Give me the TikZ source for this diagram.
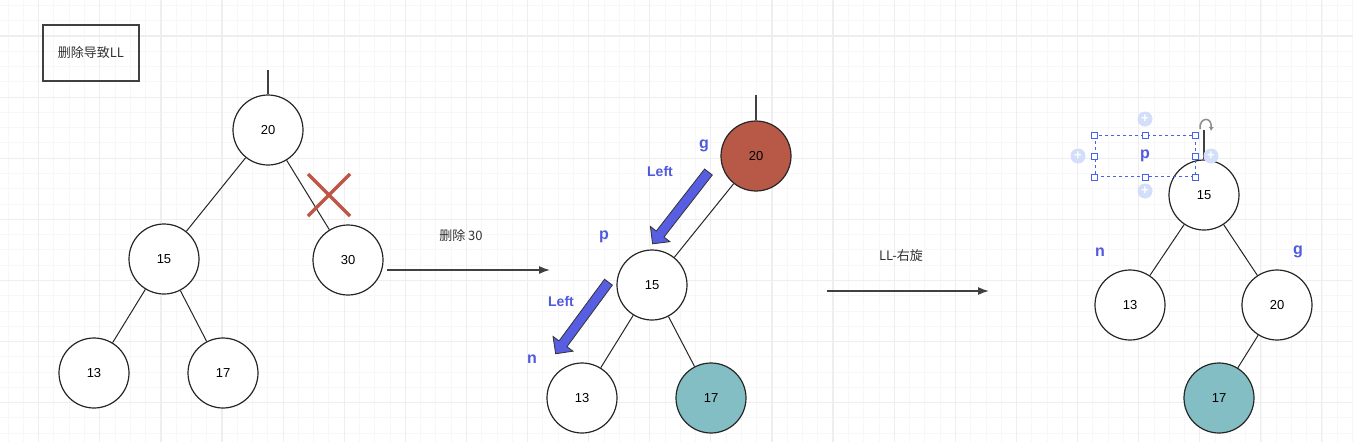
\documentclass[tikz,border=0pt]{standalone}
\usepackage{fontspec}
\setmainfont{Liberation Sans}
\newfontfamily\cjk{Noto Sans CJK SC}
\usetikzlibrary{arrows.meta,shapes.arrows}

\definecolor{gridminor}{RGB}{247,247,247}
\definecolor{gridmajor}{RGB}{238,238,238}
\definecolor{nodered}{RGB}{184,89,72}
\definecolor{nodeteal}{RGB}{132,190,197}
\definecolor{crossred}{RGB}{190,86,70}
\definecolor{tagblue}{RGB}{80,90,222}
\definecolor{arrowblue}{RGB}{88,94,226}
\definecolor{selblue}{RGB}{70,100,230}
\definecolor{plusblue}{RGB}{210,222,250}

\begin{document}
\begin{tikzpicture}[x=1pt, y=-1pt]
    \tikzstyle{every node} = [align=center, font=\fontsize{13}{15}\selectfont]
    \tikzstyle{vertex} = [circle, draw=black!85, line width=1.2pt, minimum size=70pt, inner sep=0pt, fill=white]
    \tikzstyle{redvertex} = [vertex, fill=nodered]
    \tikzstyle{tealvertex} = [vertex, fill=nodeteal]
    \tikzstyle{link} = [draw=black!85, line width=1pt]
    \tikzstyle{stub} = [draw=black!75, line width=1.7pt]
    \tikzstyle{flow} = [draw=black!75, line width=1.4pt, -{Latex[length=11pt,width=8pt]}]
    \tikzstyle{caption} = [font=\cjk\fontsize{13}{15}\selectfont, text=black!80]
    \tikzstyle{tag} = [text=tagblue, font=\bfseries\fontsize{16}{18}\selectfont]
    \tikzstyle{dirtag} = [text=tagblue, font=\bfseries\fontsize{14}{16}\selectfont]
    \tikzstyle{bigarrow} = [single arrow, draw=black!80, fill=arrowblue, line width=0.8pt, inner sep=4.5pt, single arrow head extend=7.5pt, single arrow head indent=0pt]
    \tikzstyle{handle} = [draw=selblue, fill=white, line width=0.8pt, minimum size=6pt, inner sep=0pt]
    \tikzstyle{plus} = [circle, fill=plusblue, minimum size=15pt, inner sep=0pt, text=white, font=\bfseries\fontsize{13}{13}\selectfont]

    % background and grid
    \useasboundingbox (0,0) rectangle (1353,442);
    \fill[white] (0,0) rectangle (1353,442);
    \foreach \x in {8.1,23.38,...,1353} \draw[gridminor, line width=1pt] (\x,0) -- (\x,442);
    \foreach \y in {5.4,20.68,...,442} \draw[gridminor, line width=1pt] (0,\y) -- (1353,\y);
    \foreach \x in {38.7,99.8,...,1353} \draw[gridmajor, line width=1.2pt] (\x,0) -- (\x,442);
    \foreach \y in {36,97.1,...,442} \draw[gridmajor, line width=1.2pt] (0,\y) -- (1353,\y);

    % title box
    \node (title) [draw=black!75, line width=1.6pt, minimum width=96pt, minimum height=56pt, caption] at (91,53) {删除导致LL};

    % tree before deletion
    \coordinate (t1top) at (268,70);
    \node (t1a) [vertex] at (268,130) {20};
    \node (t1b) [vertex] at (164,259) {15};
    \node (t1c) [vertex] at (348,260) {30};
    \node (t1d) [vertex] at (94,373) {13};
    \node (t1e) [vertex] at (223,373) {17};
    \draw[stub] (t1top) -- (t1a);
    \draw[link] (t1a) -- (t1b);
    \draw[link] (t1a) -- (t1c);
    \draw[link] (t1b) -- (t1d);
    \draw[link] (t1b) -- (t1e);
    \draw[crossred, line width=3.2pt] (308,174) -- (350,216) (350,174) -- (308,216);

    % delete step
    \coordinate (del1) at (387,270);
    \coordinate (del2) at (550,270);
    \draw[flow] (del1) -- (del2);
    \node (dellabel) [caption] at (461,236) {删除 30};

    % tree after deletion
    \coordinate (t2top) at (756,95);
    \node (t2a) [redvertex] at (756,156) {20};
    \node (t2b) [vertex] at (652,285) {15};
    \node (t2c) [vertex] at (582,398) {13};
    \node (t2d) [tealvertex] at (711,398) {17};
    \draw[stub] (t2top) -- (t2a);
    \draw[link] (t2a) -- (t2b);
    \draw[link] (t2b) -- (t2c);
    \draw[link] (t2b) -- (t2d);
    \node (leftg) [bigarrow, minimum height=91pt, rotate=232.1] at (682,206) {};
    \node (leftp) [bigarrow, minimum height=89pt, rotate=233.6] at (583.5,316) {};
    \node (tagg) [tag] at (704,146) {g};
    \node (tagp) [tag] at (604,237) {p};
    \node (tagn) [tag] at (532,359) {n};
    \node (dirg) [dirtag] at (660,171) {Left};
    \node (dirp) [dirtag] at (561,301) {Left};

    % rotate step
    \coordinate (rot1) at (827,291);
    \coordinate (rot2) at (989,291);
    \draw[flow] (rot1) -- (rot2);
    \node (rotlabel) [caption] at (901,256) {LL-右旋};

    % tree after right rotation
    \coordinate (t3top) at (1204,130);
    \node (t3a) [vertex] at (1204,195) {15};
    \node (t3b) [vertex] at (1130,305) {13};
    \node (t3c) [vertex] at (1277,305) {20};
    \node (t3d) [tealvertex] at (1219,398) {17};
    \draw[stub] (t3top) -- (t3a);
    \draw[link] (t3a) -- (t3b);
    \draw[link] (t3a) -- (t3c);
    \draw[link] (t3c) -- (t3d);
    \node (tagn3) [tag] at (1100,252) {n};
    \node (tagg3) [tag] at (1298,252) {g};

    % selected label p
    \node (sel) [draw=selblue, dashed, line width=0.8pt, minimum width=100pt, minimum height=41pt, tag] at (1145,156) {p};
    \foreach \pos in {north west,north,north east,west,east,south west,south,south east}
        \node [handle] at (sel.\pos) {};
    \node (plusn) [plus] at (1145,119) {+};
    \node (pluss) [plus] at (1145,191) {+};
    \node (plusw) [plus] at (1078,156) {+};
    \node (pluse) [plus] at (1211,156) {+};
    \coordinate (rota) at (1200,129);
    \coordinate (rotb) at (1211,131);
    \draw[black!45, line width=1.5pt, -{Latex[length=4pt,width=5pt]}] (rota) .. controls (1199,117) and (1212,116) .. (rotb);
\end{tikzpicture}
\end{document}
